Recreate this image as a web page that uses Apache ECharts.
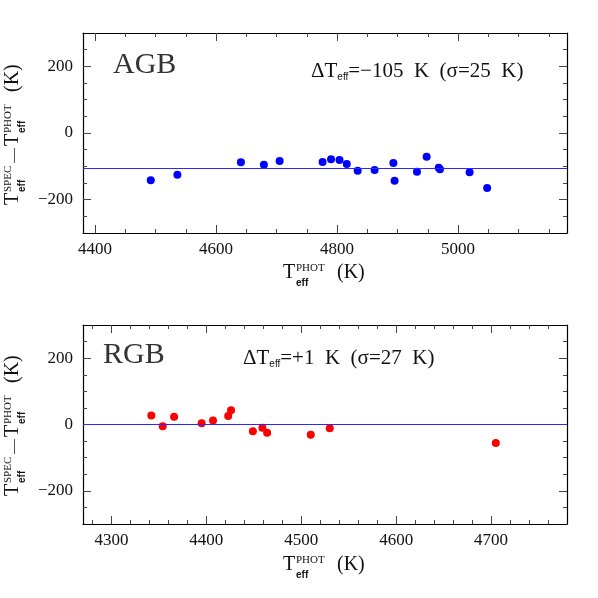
<!DOCTYPE html>
<html>
<head>
<meta charset="utf-8">
<script src="https://cdn.jsdelivr.net/npm/echarts@6/dist/echarts.min.js"></script>
<style>
  html, body { margin: 0; padding: 0; background: #fff; }
  #chart { width: 598px; height: 598px; }
</style>
</head>
<body>
<div id="chart"></div>
<script>
// AGB 星: 光度温度 与 光谱-光度温差
const agbTeff = [4492, 4536, 4641, 4679, 4705, 4776, 4790, 4804, 4816, 4834, 4862, 4893, 4895, 4932, 4948, 4968, 4970, 5019, 5048]
const agbDelta = [-142, -125, -88, -95, -84, -87, -79, -81, -93, -113, -111, -90, -143, -116, -71, -104, -109, -118, -165]
const agbMean = -105

// RGB 星
const rgbTeff = [4342, 4354, 4366, 4395, 4407, 4423, 4426, 4449, 4459, 4464, 4510, 4530, 4705]
const rgbDelta = [27, -5, 23, 4, 12, 26, 43, -20, -10, -25, -31, -11, -56]
const rgbMean = 1

// 刻度
const agbXMajor = [4400, 4600, 4800, 5000]
const agbXMinor = [4400, 4450, 4500, 4550, 4600, 4650, 4700, 4750, 4800, 4850, 4900, 4950, 5000, 5050, 5100, 5150]
const rgbXMajor = [4300, 4400, 4500, 4600, 4700]
const rgbXMinor = [4280, 4300, 4320, 4340, 4360, 4380, 4400, 4420, 4440, 4460, 4480, 4500, 4520, 4540, 4560, 4580, 4600, 4620, 4640, 4660, 4680, 4700, 4720, 4740, 4760]
const yMajor = [-200, 0, 200]
const yMinor = [-250, -200, -150, -100, -50, 0, 50, 100, 150, 200, 250]

const serif = '"Liberation Serif", "DejaVu Serif", serif'
const ink = '#111'
const tickColor = '#444'

const fmt = (v) => String(v).replace('-', '\u2212')

// 每个面板四条边: 主刻度 + 次刻度
const makeAxes = (dim, gridIndex, min, max, major, minor) => {
  const sides = dim === 'x' ? ['bottom', 'top'] : ['left', 'right']
  const list = []
  sides.forEach((pos, si) => {
    ;[major, minor].forEach((vals, ki) => {
      list.push({
        type: 'value',
        gridIndex,
        position: pos,
        min,
        max,
        axisLine: { show: ki === 0, onZero: false, lineStyle: { color: '#000', width: 1.2 } },
        axisTick: {
          show: true,
          inside: true,
          customValues: vals,
          length: ki === 0 ? 8 : 4,
          lineStyle: { color: tickColor, width: 1 }
        },
        axisLabel: {
          show: si === 0 && ki === 0,
          customValues: major,
          formatter: fmt,
          margin: dim === 'x' ? 8 : 10,
          fontFamily: serif,
          fontSize: 17,
          color: ink
        },
        splitLine: { show: false }
      })
    })
  })
  return list
}

// 轴标题 (上下标叠放)
const subFont = 'bold 10px "Liberation Sans", sans-serif'
const supFont = '11px ' + serif
const bigFont = '20px ' + serif
const txt = (x, y, text, font) => ({
  type: 'text',
  x,
  y,
  style: { text, font, fill: ink, textAlign: 'left', textVerticalAlign: 'bottom', align: 'left', verticalAlign: 'bottom' }
})

const yLabel = (cy) => ({
  type: 'group',
  x: 19,
  y: cy + 72,
  rotation: Math.PI / 2,
  children: [
    txt(0, 4, 'T', bigFont),
    txt(13, -5, 'SPEC', supFont),
    txt(13, 8, 'eff', subFont),
    txt(42, 3, '\u2014', '15px ' + serif),
    txt(59, 4, 'T', bigFont),
    txt(72, -5, 'PHOT', supFont),
    txt(72, 8, 'eff', subFont),
    txt(113, 4, '(K)', bigFont)
  ]
})

const xLabel = (by) => ({
  type: 'group',
  x: 283,
  y: by,
  children: [
    txt(0, 4, 'T', bigFont),
    txt(13, -5, 'PHOT', supFont),
    txt(13, 9, 'eff', subFont),
    txt(54, 4, '(K)', bigFont)
  ]
})

const deltaText = (x, y, text) => ({
  type: 'text',
  x,
  y,
  style: {
    text,
    fill: ink,
    textVerticalAlign: 'top',
    verticalAlign: 'top',
    rich: {
      n: { fontFamily: serif, fontSize: 21, lineHeight: 26, verticalAlign: 'bottom', fill: ink },
      s: { font: subFont, fontSize: 10, lineHeight: 8, verticalAlign: 'bottom', fill: ink }
    }
  }
})

const meanLine = (v) => ({
  silent: true,
  symbol: ['none', 'none'],
  label: { show: false },
  lineStyle: { color: '#2a2aff', type: 'solid', width: 1 },
  data: [{ yAxis: v }]
})

const initChart = () => {
  const chart = echarts.init(document.getElementById('chart'), null, { renderer: 'canvas' })

  const xAxes = [
    ...makeAxes('x', 0, 4380, 5180, agbXMajor, agbXMinor),
    ...makeAxes('x', 1, 4270, 4780, rgbXMajor, rgbXMinor)
  ]
  const yAxes = [
    ...makeAxes('y', 0, -300, 300, yMajor, yMinor),
    ...makeAxes('y', 1, -300, 300, yMajor, yMinor)
  ]

  const option = {
    animation: false,
    backgroundColor: '#fff',
    grid: [
      { left: 83, top: 33, width: 484, height: 200, outerBoundsMode: 'none' },
      { left: 83, top: 325, width: 484, height: 199, outerBoundsMode: 'none' }
    ],
    xAxis: xAxes,
    yAxis: yAxes,
    series: [
      {
        type: 'scatter',
        xAxisIndex: 0,
        yAxisIndex: 0,
        symbolSize: 8,
        itemStyle: { color: '#0000ff', opacity: 1 },
        data: agbTeff.map((t, i) => [t, agbDelta[i]]),
        markLine: meanLine(agbMean)
      },
      {
        type: 'scatter',
        xAxisIndex: 4,
        yAxisIndex: 4,
        symbolSize: 8,
        itemStyle: { color: '#ff0000', opacity: 1 },
        data: rgbTeff.map((t, i) => [t, rgbDelta[i]]),
        markLine: meanLine(rgbMean)
      }
    ],
    graphic: [
      { type: 'text', x: 113, y: 50, style: { text: 'AGB', font: '30px ' + serif, fill: '#333', textVerticalAlign: 'top', verticalAlign: 'top' } },
      { type: 'text', x: 103, y: 340, style: { text: 'RGB', font: '30px ' + serif, fill: '#333', textVerticalAlign: 'top', verticalAlign: 'top' } },
      deltaText(311, 56, '{n|\u0394T}{s|eff}{n|=\u2212105  K  (\u03c3=25  K)}'),
      deltaText(243, 343, '{n|\u0394T}{s|eff}{n|=+1  K  (\u03c3=27  K)}'),
      yLabel(133),
      yLabel(424),
      xLabel(279),
      xLabel(571)
    ]
  }

  chart.setOption(option)
}

initChart()
</script>
</body>
</html>
